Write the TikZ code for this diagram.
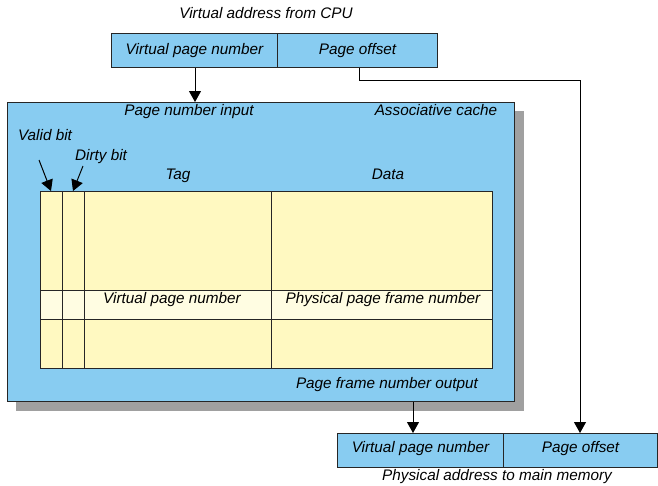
\documentclass[tikz,border=0pt]{standalone}
\usepackage{fontspec}
\setmainfont{Liberation Sans}
\usetikzlibrary{arrows.meta}
\definecolor{cblue}{HTML}{88CCF1}
\definecolor{cyel}{HTML}{FFF9C1}
\definecolor{cyel2}{HTML}{FFFDE2}
\definecolor{cshadow}{HTML}{A0A0A0}
\begin{document}
\begin{tikzpicture}[x=1pt,y=-1pt,
  lbl/.style={font=\fontsize{15.3}{17}\selectfont\itshape, inner sep=0pt, anchor=mid},
  cell/.style={draw=black!85, line width=1pt},
  arr/.style={draw=black, line width=1pt, -{Triangle[length=11pt,width=12pt]}},
  wire/.style={draw=black, line width=1pt}]
\useasboundingbox (0,0) rectangle (658,485);
% top address
\node[cell, fill=cblue, minimum width=166pt, minimum height=34pt, anchor=north west, inner sep=0pt] (tv) at (111,33) {};
\node[cell, fill=cblue, minimum width=160pt, minimum height=34pt, anchor=north west, inner sep=0pt] (to) at (277,33) {};
\node[lbl] at ([yshift=-1pt]tv.center) {Virtual page number};
\node[lbl] at ([yshift=-1pt]to.center) {Page offset};
\node[lbl] (ttl) at (266,16) {Virtual address from CPU};
% cache shadow and body
\fill[cshadow] (16,111) rectangle (524,411);
\node[cell, fill=cblue, minimum width=507pt, minimum height=299pt, anchor=north west, inner sep=0pt] (cache) at (7,102) {};
\node[lbl] (pin) at (189,113) {Page number input};
\node[lbl] (assoc) at (436,113) {Associative cache};
\node[lbl] (valid) at (45,138) {Valid bit};
\node[lbl] (dirty) at (101,158) {Dirty bit};
\node[lbl] (tag) at (178,177) {Tag};
\node[lbl] (data) at (388,177) {Data};
\node[lbl] (pfo) at (387,386) {Page frame number output};
% table
\fill[cyel] (40,191) rectangle (492,368);
\fill[cyel2] (40,290) rectangle (492,319);
\draw[cell] (40,191) rectangle (492,368);
\draw[cell] (62,191) -- (62,368);
\draw[cell] (84,191) -- (84,368);
\draw[cell] (271,191) -- (271,368);
\draw[cell] (40,290) -- (492,290);
\draw[cell] (40,319) -- (492,319);
\node[lbl] (vpn) at (172,301) {Virtual page number};
\node[lbl] (ppf) at (383,301) {Physical page frame number};
\coordinate (vs) at (39,160);
\coordinate (vt) at (51,191);
\coordinate (ds) at (83,166);
\coordinate (dt) at (73,191);
\draw[arr] (vs) -- (vt);
\draw[arr] (ds) -- (dt);
% bottom address
\node[cell, fill=cblue, minimum width=166pt, minimum height=34pt, anchor=north west, inner sep=0pt] (bv) at (337,433) {};
\node[cell, fill=cblue, minimum width=154pt, minimum height=34pt, anchor=north west, inner sep=0pt] (bo) at (503,433) {};
\node[lbl] at ([yshift=1pt]bv.center) {Virtual page number};
\node[lbl] at ([yshift=1pt]bo.center) {Page offset};
\node[lbl] (pam) at (497,478) {Physical address to main memory};
% connectors
\draw[arr] (tv.south -| 195,0) -- (cache.north -| 195,0);
\draw[arr] (cache.south -| 413,0) -- (bv.north -| 413,0);
\draw[arr] (to.south -| 359,0) -- (359,80) -- (580,80) -- (bo.north -| 580,0);
\end{tikzpicture}
\end{document}
